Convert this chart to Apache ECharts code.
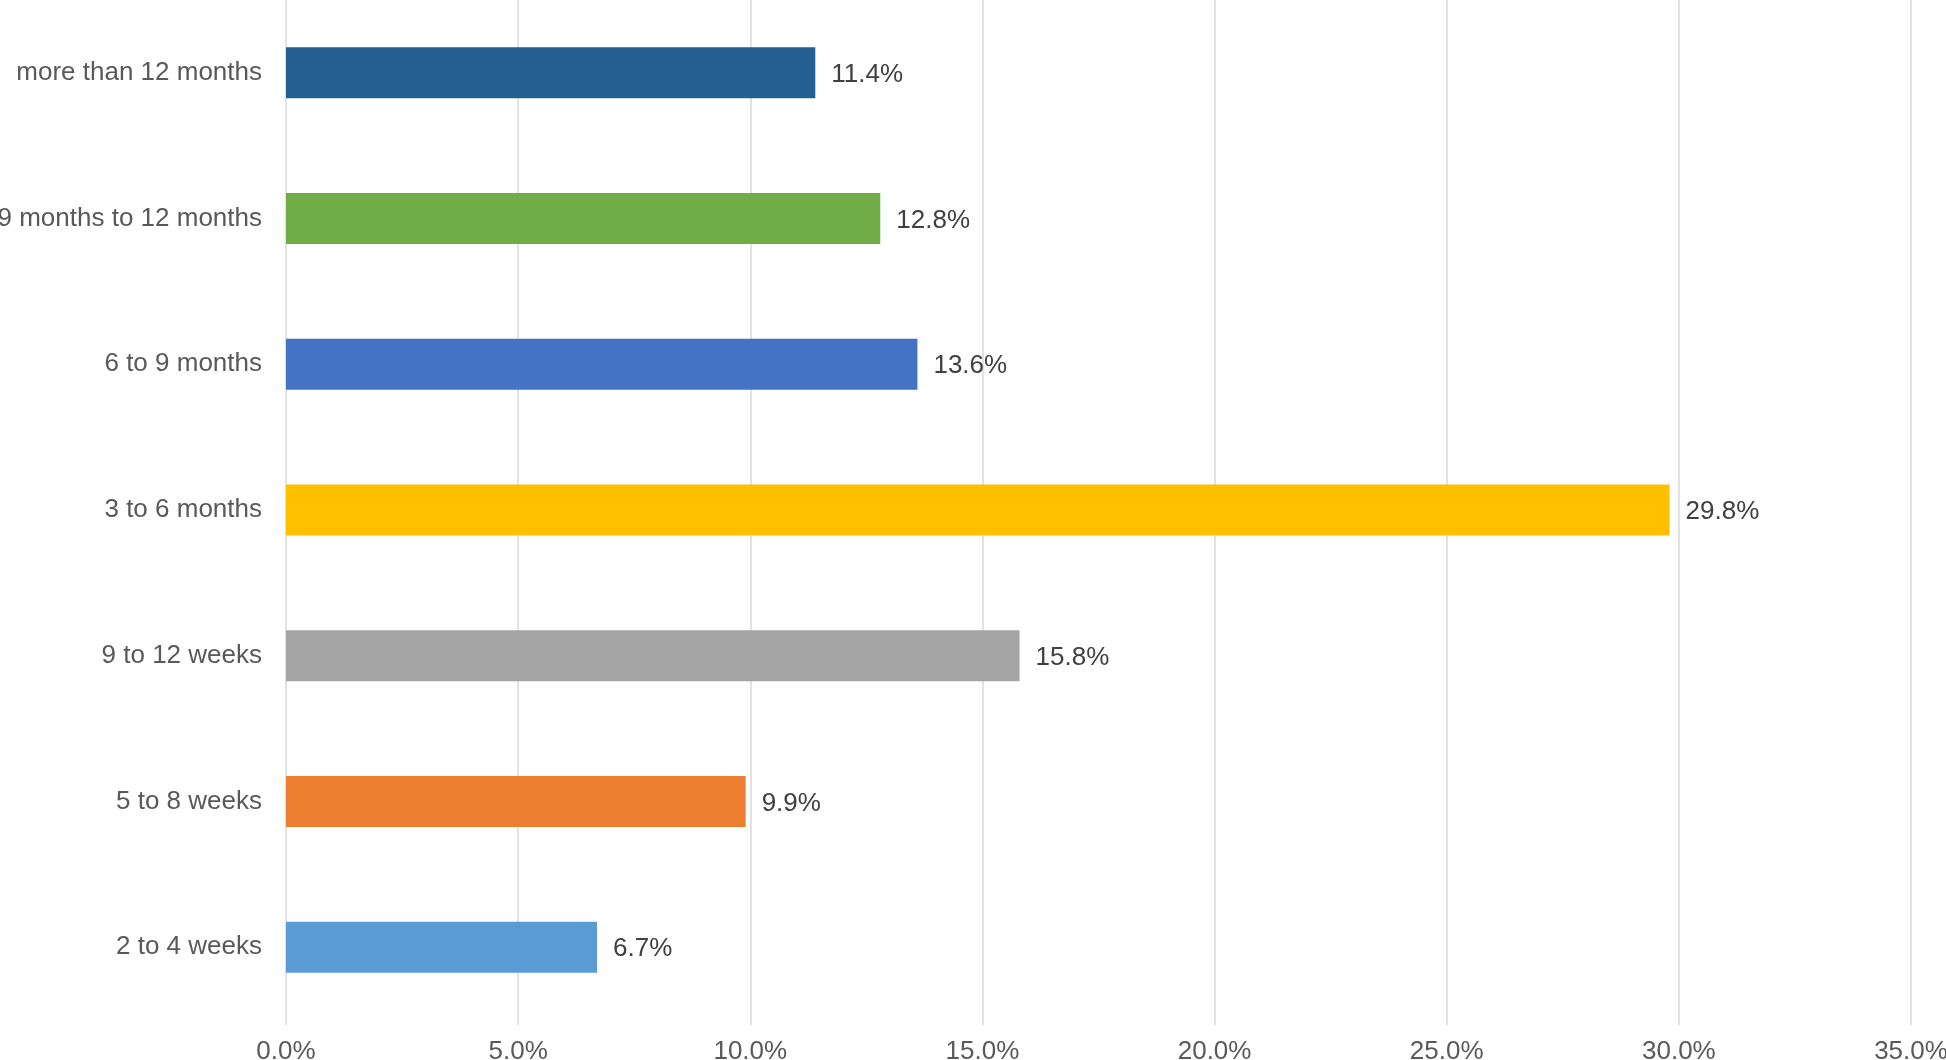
<!DOCTYPE html>
<html>
<head>
<meta charset="utf-8">
<script src="https://cdn.jsdelivr.net/npm/echarts@6/dist/echarts.min.js"></script>
<style>
html,body{margin:0;padding:0;background:#fff;}
#chart{width:1946px;height:1060px;}
</style>
</head>
<body>
<div id="chart"></div>
<script>
const categories = ['2 to 4 weeks', '5 to 8 weeks', '9 to 12 weeks', '3 to 6 months', '6 to 9 months', '9 months to 12 months', 'more than 12 months'];
const values = [6.7, 9.9, 15.8, 29.8, 13.6, 12.8, 11.4];
const barColors = ['#5B9BD5', '#ED7D31', '#A5A5A5', '#FFC000', '#4472C4', '#70AD47', '#255E91'];
const xTicks = [0, 5, 10, 15, 20, 25, 30, 35];

const chart = echarts.init(document.getElementById('chart'));
chart.setOption({
  animation: false,
  grid: { left: 286, right: 35, top: 0, bottom: 40, containLabel: false, outerBoundsMode: 'none' },
  xAxis: {
    type: 'value',
    min: xTicks[0],
    max: xTicks[xTicks.length - 1],
    interval: 5,
    axisLine: { show: false },
    axisTick: { show: true, length: 5, lineStyle: { color: '#D9D9D9', width: 1.5 } },
    splitLine: { show: true, lineStyle: { color: '#D9D9D9', width: 1.5 } },
    axisLabel: {
      formatter: v => v.toFixed(1) + '%',
      color: '#595959',
      fontSize: 26,
      fontFamily: 'Liberation Sans, Arial, sans-serif',
      margin: 19
    }
  },
  yAxis: {
    type: 'category',
    data: categories,
    axisLine: { show: false },
    axisTick: { show: false },
    axisLabel: {
      color: '#595959',
      fontSize: 26,
      fontFamily: 'Liberation Sans, Arial, sans-serif',
      margin: 24
    }
  },
  series: [{
    type: 'bar',
    barWidth: '35%',
    data: values.map((v, i) => ({ value: v, itemStyle: { color: barColors[i] } })),
    label: {
      show: true,
      position: 'right',
      distance: 16,
      formatter: p => p.value.toFixed(1) + '%',
      color: '#404040',
      fontSize: 26,
      fontFamily: 'Liberation Sans, Arial, sans-serif',
      offset: [0, 2]
    }
  }]
});
</script>
</body>
</html>
